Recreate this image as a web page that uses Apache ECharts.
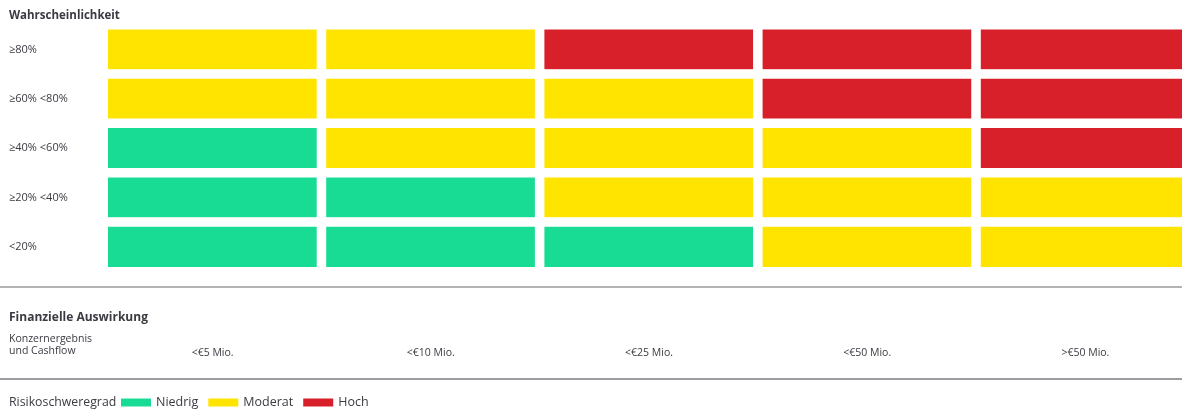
<!DOCTYPE html>
<html>
<head>
<meta charset="utf-8">
<script src="https://cdn.jsdelivr.net/npm/echarts@6/dist/echarts.min.js"></script>
<style>
  html, body { margin: 0; padding: 0; background: #fff; }
  #chart { width: 1182px; height: 410px; }
</style>
</head>
<body>
<div id="chart"></div>
<script>
// Spalten: finanzielle Auswirkung
const impacts = ['<€5 Mio.', '<€10 Mio.', '<€25 Mio.', '<€50 Mio.', '>€50 Mio.']
// Zeilen: Wahrscheinlichkeit (oben -> unten)
const probabilities = ['≥80%', '≥60% <80%', '≥40% <60%', '≥20% <40%', '<20%']
// Risikoschweregrad je Zeile (0 = Niedrig, 1 = Moderat, 2 = Hoch)
const rowP80 = [1, 1, 2, 2, 2]
const rowP60 = [1, 1, 1, 2, 2]
const rowP40 = [0, 1, 1, 1, 2]
const rowP20 = [0, 0, 1, 1, 1]
const rowP0 = [0, 0, 0, 1, 1]
const levels = ['Niedrig', 'Moderat', 'Hoch']
const levelColors = ['#18dc94', '#ffe400', '#d72029']

const rows = [rowP80, rowP60, rowP40, rowP20, rowP0]
const data = []
rows.forEach((row, y) => {
  row.forEach((v, x) => {
    data.push([x, y, v])
  })
})

const font = '"Open Sans", sans-serif'
const txt = '#3a3a42'

let myChart = echarts.init(document.getElementById('chart'))
let option = {
  animation: false,
  textStyle: { fontFamily: font },
  grid: {
    left: 103.5,
    top: 25,
    width: 1091,
    height: 246.5,
    containLabel: false,
    outerBoundsMode: 'none' // Raster darf rechts über den Rand hinausgehen
  },
  xAxis: {
    type: 'category',
    data: impacts,
    axisLine: { show: false },
    axisTick: { show: false },
    splitLine: { show: false },
    axisLabel: { margin: 76, fontSize: 10.5, color: txt, fontFamily: font }
  },
  yAxis: {
    type: 'category',
    data: probabilities,
    inverse: true,
    axisLine: { show: false },
    axisTick: { show: false },
    splitLine: { show: false },
    axisLabel: { align: 'left', margin: 94.5, fontSize: 11, color: txt, fontFamily: font, padding: [3, 0, 0, 0] }
  },
  visualMap: {
    type: 'piecewise',
    show: true,
    orient: 'horizontal',
    left: 106,
    bottom: -14,
    itemWidth: 30,
    itemHeight: 8,
    itemGap: 10,
    textGap: 5,
    itemSymbol: 'rect',
    textStyle: { color: txt, fontSize: 12.5, fontFamily: font },
    pieces: levels.map((l, i) => ({ value: i, label: l, color: levelColors[i] }))
  },
  graphic: [
    { type: 'text', z: 100, left: 9, top: 10, style: { text: 'Wahrscheinlichkeit', font: 'bold 11.5px ' + font, fill: txt } },
    { type: 'line', shape: { x1: 0, y1: 287, x2: 1182, y2: 287 }, style: { stroke: '#9a9a9e', lineWidth: 1.5 } },
    { type: 'text', z: 100, left: 9, top: 312, style: { text: 'Finanzielle Auswirkung', font: 'bold 12px ' + font, fill: txt } },
    { type: 'text', left: 9, top: 333, style: { text: 'Konzernergebnis\nund Cashflow', font: '10.5px ' + font, fill: txt, lineHeight: 12 } },
    { type: 'line', shape: { x1: 0, y1: 379, x2: 1182, y2: 379 }, style: { stroke: '#3c3c44', lineWidth: 1.2 } },
    { type: 'text', left: 9, top: 396, style: { text: 'Risikoschweregrad', font: '12.3px ' + font, fill: txt } }
  ],
  series: [
    {
      type: 'heatmap',
      z: 1,
      data: data,
      itemStyle: { borderColor: '#fff', borderWidth: 9.5 },
      emphasis: { disabled: true },
      label: { show: false }
    }
  ]
}
myChart.setOption(option)
</script>
</body>
</html>
